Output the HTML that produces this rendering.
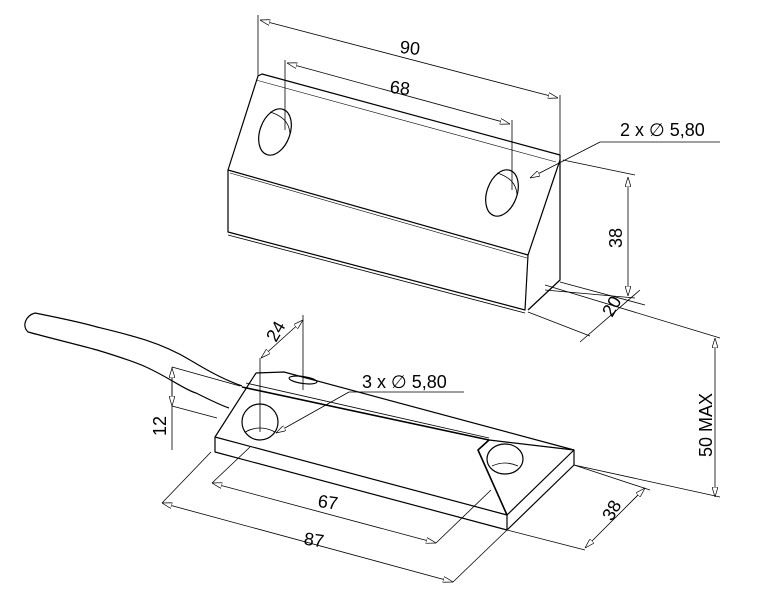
<!DOCTYPE html>
<html><head><meta charset="utf-8"><style>
html,body{margin:0;padding:0;background:#fff}
svg{display:block}
text{font-family:"Liberation Sans",sans-serif;font-size:18px;fill:#000}
</style></head><body>
<svg width="760" height="600" viewBox="0 0 760 600" xmlns="http://www.w3.org/2000/svg">
<defs>
<marker id="a" viewBox="0 0 10 6" refX="10" refY="3" markerWidth="10" markerHeight="6" orient="auto-start-reverse" markerUnits="userSpaceOnUse">
<path d="M0,0 L10,3 L0,6 Z" fill="#fff" stroke="#000" stroke-width="0.7"/></marker>
</defs>
<g fill="none" stroke="#000" stroke-width="1.2" stroke-linejoin="round">
<!-- top block -->
<path d="M258,76 L228,170 L228,232 L525,310 L528,255 L560,160 L560,280 L528,310"/>
<path d="M258,76 L262,74 L560,155 L560,160"/>
<path d="M228,170 L528,255"/>
<path d="M230,173 L527,258" stroke-width="0.6"/>
<path d="M256,80 L556,162" stroke-width="0.6"/>
<path d="M228,235 L525,313" stroke-width="0.8"/>
<ellipse cx="275" cy="132" rx="15" ry="24" transform="rotate(20 275 132)"/>
<path d="M270,112 Q290,118 290,135" stroke-width="0.8"/>
<ellipse cx="502" cy="193" rx="15" ry="24" transform="rotate(20 502 193)"/>
<path d="M497,173 Q517,179 517,196" stroke-width="0.8"/>
<!-- top dims -->
<g stroke-width="0.8">
<path d="M258,15 L258,76 M560,95 L560,155 M285,60 L285,130 M512,120 L512,190"/>
<path d="M260,20 L558,98" marker-start="url(#a)" marker-end="url(#a)"/>
<path d="M287,63 L510,124" marker-start="url(#a)" marker-end="url(#a)"/>
<path d="M720,142 L600,142 L530,178" marker-end="url(#a)"/>
<path d="M563,160 L635,175 M545,290 L635,298"/>
<path d="M628,177 L628,296" marker-start="url(#a)" marker-end="url(#a)"/>
<path d="M528,312 L590,336 M560,282 L645,305"/>
<path d="M640,290 L580,342" />
<path d="M545,285 L720,338 M574,465 L720,497"/>
<path d="M715,338 L715,497" marker-start="url(#a)" marker-end="url(#a)"/>
</g>
<!-- cable -->
<path d="M35,313 C60,318 80,322 97,327 C130,335 160,342 190,360 C210,372 225,380 242,386"/>
<path d="M35,313 C25,316 22,326 28,332 C50,338 75,344 97,350 C120,357 135,362 146,367 C170,378 185,390 196,393 C210,400 220,405 229,408"/>
<!-- lower block -->
<path d="M256,373 L215,437 L215,452 L507,530 L574,465 L574,450 L507,515 L215,437"/>
<path d="M256,373 L284,372 L574,450"/>
<path d="M242,387 L489,440 L478,450 L507,515" stroke-width="1.6"/>
<path d="M246,383 L489,438" stroke-width="0.8"/>
<path d="M489,440 L574,450 M507,515 L507,530"/>
<ellipse cx="260" cy="422" rx="18" ry="18"/>
<path d="M245,432 Q260,424 275,432" stroke-width="0.8"/>
<ellipse cx="505" cy="459" rx="18" ry="15"/>
<path d="M492,466 Q505,460 518,466" stroke-width="0.8"/>
<ellipse cx="303" cy="380" rx="14" ry="3.5" transform="rotate(8 303 380)"/>
<!-- lower dims -->
<g stroke-width="0.8">
<path d="M303,315 L303,390 M260,358 L260,432"/>
<path d="M261,358 L303,320" marker-start="url(#a)" marker-end="url(#a)"/>
<path d="M464,392 L349,392 L276,433" marker-end="url(#a)"/>
<path d="M172,367 L240,386 M172,406 L217,418 M172,450 L172,367"/>
<path d="M172,368 L172,406" marker-start="url(#a)" marker-end="url(#a)"/>
<path d="M250,447 L212,483 M491,490 L436,543"/>
<path d="M212,483 L436,543" marker-start="url(#a)" marker-end="url(#a)"/>
<path d="M211,452 L162,503 M507,530 L453,582"/>
<path d="M162,503 L453,582" marker-start="url(#a)" marker-end="url(#a)"/>
<path d="M574,465 L650,490 M507,530 L585,550"/>
<path d="M645,488 L585,548" marker-start="url(#a)" marker-end="url(#a)"/>
</g>
</g>
<g>
<text x="400" y="54" transform="rotate(6 410 48)">90</text>
<text x="390" y="94" transform="rotate(6 400 88)">68</text>
<text x="620" y="136">2 x ∅ 5,80</text>
<text x="0" y="0" transform="translate(622,248) rotate(-90)">38</text>
<text x="0" y="0" transform="translate(612,318) rotate(-60)">20</text>
<text x="0" y="0" transform="translate(712,457) rotate(-90)">50 MAX</text>
<text x="0" y="0" transform="translate(276,343) rotate(-60)">24</text>
<text x="362" y="388">3 x ∅ 5,80</text>
<text x="0" y="0" transform="translate(166,436) rotate(-90)">12</text>
<text x="318" y="508" transform="rotate(8 326 502)">67</text>
<text x="304" y="546" transform="rotate(8 314 540)">87</text>
<text x="0" y="0" transform="translate(612,522) rotate(-60)">38</text>
</g>
</svg>
</body></html>
